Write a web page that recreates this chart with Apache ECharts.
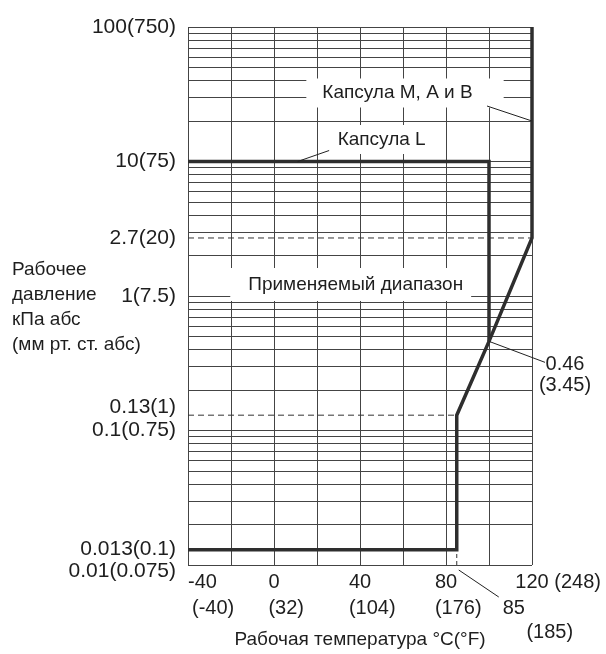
<!DOCTYPE html>
<html>
<head>
<meta charset="utf-8">
<script src="https://cdn.jsdelivr.net/npm/echarts@6/dist/echarts.min.js"></script>
<style>html,body{margin:0;padding:0;background:#fff}#c{width:606px;height:654px}</style>
</head>
<body>
<div id="c"></div>
<script>
// ---------- data ----------
const tempTicks = [-40, 0, 40, 80, 120];
const tempTickLabelsC = ['-40', '0', '40', '80', '120'];
const tempTickLabelsF = ['(-40)', '(32)', '(104)', '(176)', '(248)'];

const pressureTicks = [100, 10, 2.7, 1, 0.13, 0.1, 0.013, 0.01];
const pressureTickLabels = ['100(750)', '10(75)', '2.7(20)', '1(7.5)', '0.13(1)', '0.1(0.75)', '0.013(0.1)', '0.01(0.075)'];

// horizontal log grid lines (kPa)
const pressureGridLines = [
  0.01, 0.02, 0.03, 0.04, 0.05, 0.06, 0.07, 0.08, 0.09,
  0.1, 0.2, 0.3, 0.4, 0.5, 0.6, 0.7, 0.8, 0.9,
  1, 2, 3, 4, 5, 6, 7, 8, 9,
  10, 20, 30, 40, 50, 60, 70, 80, 90,
  100
];

// Capsule L upper limit
const capsuleLTemp = [-40, 100, 100];
const capsuleLPress = [10, 10, 0.46];
// Capsule M, A, B limit + lower boundary of applicable range
const capsuleMABTemp = [-40, 85, 85, 100, 120, 120];
const capsuleMABPress = [0.013, 0.013, 0.13, 0.46, 2.7, 100];

// dashed reference lines
const dash27Temp = [-40, 120];
const dash27Press = [2.7, 2.7];
const dash013Temp = [-40, 85];
const dash013Press = [0.13, 0.13];
const dash85Temp = [85, 85];
const dash85Press = [0.01, 0.013];

// annotation anchors (data coordinates)
const calloutMAB = [120, 20];
const calloutL = [11, 10];
const rangeLabelAt = [38, 1.22];
const callout046 = [100, 0.46];
const callout85 = [85, 0.01];

const textMAB = 'Капсула M, A и B';
const textL = 'Капсула L';
const textRange = 'Применяемый диапазон';
const text046 = ['0.46', '(3.45)'];
const text85 = ['85', '(185)'];
const yName = ['Рабочее', 'давление', 'кПа абс', '(мм рт. ст. абс)'];
const xName = 'Рабочая температура °C(°F)';

// ---------- styles ----------
const FS = 20;      // numeric labels
const FSY = 21;     // y tick labels
const FST = 19;     // text labels
const FF = 'Liberation Sans';
const TXT = '#1e1e1e';
const GRID = '#444';
const THICK = '#2e2e2e';

const ctx = document.createElement('canvas').getContext('2d');
ctx.font = FS + 'px ' + FF;
const tw = s => ctx.measureText(s).width;

function zip(a, b) { return a.map((v, i) => [v, b[i]]); }

// x labels: first line centred on tick, second line left-aligned with the first
const xRich = { t: { fontSize: FS, fontFamily: FF, lineHeight: 26, align: 'left', color: TXT } };
const xLabelText = {};
tempTicks.forEach((v, i) => {
  const c = tempTickLabelsC[i], f = tempTickLabelsF[i];
  let lines;
  if (i === tempTicks.length - 1) lines = [{ s: c + ' ' + f, L: -tw(c) / 2 }];
  else if (i === 0) lines = [{ s: c, L: 0 }, { s: f, L: 4 }];
  else lines = [{ s: c, L: -tw(c) / 2 }, { s: f, L: -tw(c) / 2 }];
  const W = 2 * Math.max(...lines.map(l => Math.max(-l.L, l.L + tw(l.s))));
  xLabelText[v] = lines.map((l, j) => {
    let str = '';
    const lead = l.L + W / 2, trail = W - lead - tw(l.s);
    if (lead > 0.5) { const k = 'p' + i + 'a' + j; xRich[k] = { width: lead, fontSize: FS, lineHeight: 26, align: 'left' }; str += '{' + k + '| }'; }
    str += '{t|' + l.s + '}';
    if (trail > 0.5) { const k = 'p' + i + 'b' + j; xRich[k] = { width: trail, fontSize: FS, lineHeight: 26, align: 'left' }; str += '{' + k + '| }'; }
    return str;
  }).join('\n');
});

const yShift = { '0.13(1)': 'up', '0.01(0.075)': 'dn' };

const lineSeries = (name, t, p, style) => ({
  name, type: 'line', data: zip(t, p), symbol: 'none', z: 5,
  lineStyle: style, silent: true, animation: false
});

const option = {
  animation: false,
  backgroundColor: '#fff',
  grid: { left: 188, right: 74, top: 27, bottom: 86 },
  xAxis: {
    type: 'value', min: -40, max: 120, interval: 20,
    axisLine: { show: false }, axisTick: { show: false },
    splitLine: { show: true, lineStyle: { color: GRID, width: 1 } },
    axisLabel: {
      margin: 4, showMinLabel: true, showMaxLabel: true,
      formatter: v => xLabelText[v] || '',
      rich: xRich
    },
    name: xName, nameLocation: 'middle', nameGap: 65,
    nameTextStyle: { fontSize: FST, fontFamily: FF, color: TXT }
  },
  yAxis: {
    type: 'log', logBase: 10, min: 0.01, max: 100,
    axisLine: { show: false }, axisTick: { show: false },
    splitLine: { show: false },
    axisLabel: {
      customValues: pressureTicks,
      margin: 12, fontSize: FSY, fontFamily: FF, color: TXT,
      formatter: v => {
        let idx = 0, best = 1e9;
        pressureTicks.forEach((t, i) => { const d = Math.abs(Math.log10(t) - Math.log10(v)); if (d < best) { best = d; idx = i; } });
        const s = pressureTickLabels[idx];
        return yShift[s] ? '{' + yShift[s] + '|' + s + '}' : s;
      },
      rich: {
        up: { fontSize: FSY, fontFamily: FF, color: TXT, padding: [0, 0, 16, 0] },
        dn: { fontSize: FSY, fontFamily: FF, color: TXT, padding: [12, 0, 0, 0] }
      }
    }
  },
  series: [
    {
      name: 'grid', type: 'line', data: [], z: 1, silent: true,
      markLine: {
        silent: true, symbol: ['none', 'none'], animation: false,
        label: { show: false },
        lineStyle: { type: 'solid', color: GRID, width: 1 },
        emphasis: { disabled: true },
        data: pressureGridLines.map(v => ({ yAxis: v }))
      }
    },
    lineSeries('dash27', dash27Temp, dash27Press, { color: '#333', width: 1, type: [6, 4] }),
    lineSeries('dash013', dash013Temp, dash013Press, { color: '#333', width: 1, type: [6, 4] }),
    lineSeries('dash85', dash85Temp, dash85Press, { color: '#333', width: 1, type: [4, 3] }),
    lineSeries('Капсула L', capsuleLTemp, capsuleLPress, { color: THICK, width: 3.5, join: 'miter' }),
    lineSeries('Капсула M, A и B', capsuleMABTemp, capsuleMABPress, { color: THICK, width: 3.5, join: 'miter' })
  ]
};

const chart = echarts.init(document.getElementById('c'), null, { renderer: 'canvas' });
chart.setOption(option);

const px = p => chart.convertToPixel({ gridIndex: 0 }, p);
const fontT = FST + 'px ' + FF;
const fontN = FS + 'px ' + FF;
const g = [];
function boxText(text, cx, cy, pad) {
  // pad: [top, right, bottom, left]; (cx, cy) is centre of the text itself
  return {
    type: 'text', z: 50,
    x: cx + (pad[1] - pad[3]) / 2, y: cy + (pad[2] - pad[0]) / 2,
    style: { text, font: fontT, fill: TXT, align: 'center', verticalAlign: 'middle', backgroundColor: '#fff', padding: pad }
  };
}
function leader(a, b) {
  return { type: 'polyline', z: 60, shape: { points: [a, b] }, style: { stroke: '#222', lineWidth: 1, fill: null } };
}
{
  const a = px(calloutMAB);
  g.push(boxText(textMAB, a[0] - 134.5, a[1] - 28, [5, 31, 5, 16]));
  g.push(leader([a[0] - 45, a[1] - 15], a));
}
{
  const a = px(calloutL);
  g.push(boxText(textL, a[0] + 84, a[1] - 22, [5, 12, 5, 8]));
  g.push(leader([a[0] + 31.5, a[1] - 11], a));
}
{
  const a = px(rangeLabelAt);
  g.push(boxText(textRange, a[0], a[1], [7, 8, 7, 18]));
}
{
  const a = px(callout046);
  g.push(leader(a, [a[0] + 56, a[1] + 21]));
  g.push({ type: 'text', z: 50, x: a[0] + 76, y: a[1] + 13,
    style: { text: text046.join('\n'), font: fontN, fill: TXT, align: 'center', verticalAlign: 'top', lineHeight: 21 } });
}
{
  const a = px(callout85);
  g.push(leader([a[0] + 2, a[1] + 5], [a[0] + 42, a[1] + 32]));
  g.push({ type: 'text', z: 50, x: a[0] + 57, y: a[1] + 43,
    style: { text: text85[0], font: fontN, fill: TXT, align: 'center', verticalAlign: 'middle' } });
  g.push({ type: 'text', z: 50, x: a[0] + 93, y: a[1] + 67,
    style: { text: text85[1], font: fontN, fill: TXT, align: 'center', verticalAlign: 'middle' } });
}
g.push({ type: 'text', z: 50, x: 12, y: 257.5,
  style: { text: yName.join('\n'), font: fontT, fill: TXT, align: 'left', verticalAlign: 'top', lineHeight: 25 } });

chart.setOption({ graphic: { elements: g } });
</script>
</body>
</html>
